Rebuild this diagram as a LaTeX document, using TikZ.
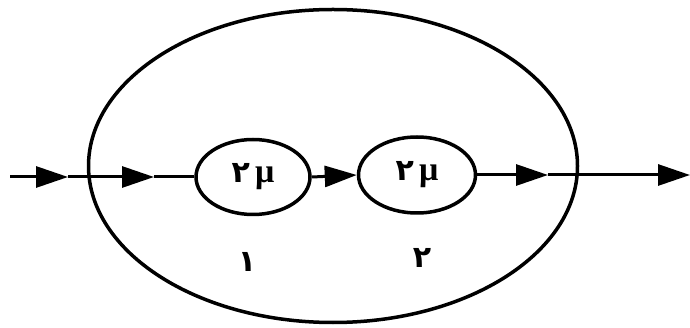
\documentclass[tikz,border=0pt]{standalone}
\usepackage{fontspec}
\usetikzlibrary{arrows.meta,shapes.geometric}
\newfontfamily\arabicfont[Script=Arabic]{DejaVu Sans}
\newfontfamily\grk{Liberation Serif}
\begin{document}
\begin{tikzpicture}[x=1pt,y=-1pt,
  ring/.style={draw,ellipse,line width=3.5pt,inner sep=0pt},
  flow/.style={line width=3pt,-{Triangle[length=32pt,width=21pt]}},
  lbl/.style={font=\fontsize{30}{32}\selectfont\bfseries},
  mu/.style={font=\fontsize{34}{36}\selectfont\bfseries\grk}]
\useasboundingbox (0,0) rectangle (690,328);
\node[ring,minimum width=489pt,minimum height=313pt] (sys) at (333,166) {};
\node[ring,minimum width=114pt,minimum height=75pt,lbl] (s1) at (253,177) {{\arabicfont ۲}\,{\fontsize{34}{36}\selectfont\grk μ}};
\node[ring,minimum width=117pt,minimum height=76pt,lbl] (s2) at (417,175) {{\arabicfont ۲}\,{\fontsize{34}{36}\selectfont\grk μ}};
\node[lbl] (n1) at (247,262) {\arabicfont ۱};
\node[lbl] (n2) at (422,258) {\arabicfont ۲};
\coordinate (in) at (10,177);
\coordinate (a1) at (68,177);
\coordinate (a2) at (154,177);
\coordinate (a3) at (548,175);
\coordinate (out) at (690,175);
\draw[flow] (in) -- (a1);
\draw[flow] (a1) -- (a2);
\draw[line width=3pt] (a2) -- (s1.west);
\draw[flow] (s1.east) -- (s2.west);
\draw[flow] (s2.east) -- (a3);
\draw[flow] (a3) -- (out);
\end{tikzpicture}
\end{document}
